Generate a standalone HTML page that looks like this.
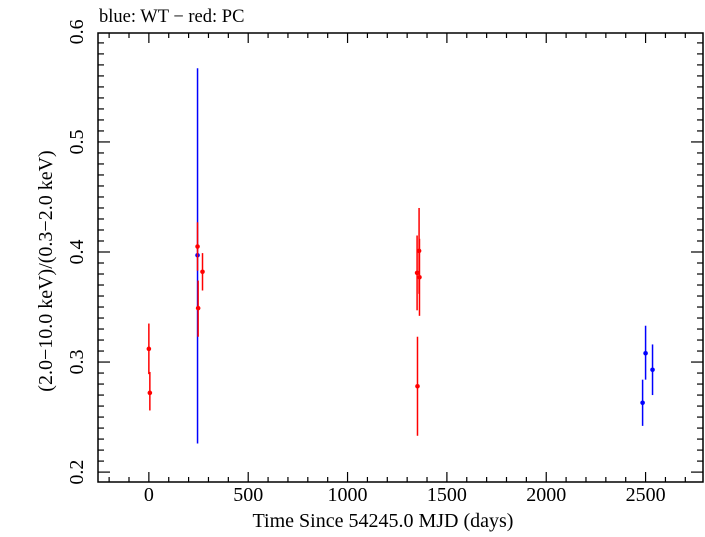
<!DOCTYPE html>
<html><head><meta charset="utf-8"><style>
body{margin:0;background:#fff}
svg text{font-family:"Liberation Serif",serif;fill:#000}
</style></head><body>
<svg id="chart" width="705" height="532" xmlns="http://www.w3.org/2000/svg">
<text x="99" y="22" font-size="18.5">blue: WT − red: PC</text>
<rect x="98" y="33" width="605" height="449" fill="none" stroke="#000" stroke-width="1.5"/>
<g id="axes"></g>
<g id="marks"></g>
<text x="383" y="527" font-size="20" text-anchor="middle">Time Since 54245.0 MJD (days)</text>
<text transform="translate(52,271) rotate(-90)" font-size="20" text-anchor="middle">(2.0−10.0 keV)/(0.3−2.0 keV)</text>
</svg>
<script>
const xTicks=[0,500,1000,1500,2000,2500];
const yTicks=[0.2,0.3,0.4,0.5,0.6];
const redX=[0,5,245,248,270,1350,1352,1360,1362];
const redY=[0.312,0.272,0.405,0.349,0.382,0.381,0.278,0.401,0.377];
const redLo=[0.289,0.256,0.383,0.323,0.365,0.347,0.233,0.362,0.342];
const redHi=[0.335,0.291,0.427,0.374,0.399,0.415,0.323,0.440,0.412];
const blueX=[245,2485,2500,2535];
const blueY=[0.397,0.263,0.308,0.293];
const blueLo=[0.226,0.242,0.284,0.270];
const blueHi=[0.567,0.284,0.333,0.316];
const X0=98,X1=703,Y0=482,Y1=33,XMIN=-256,XMAX=2789,YMIN=0.191,YMAX=0.599;
const sx=v=>X0+(v-XMIN)/(XMAX-XMIN)*(X1-X0);
const sy=v=>Y0-(v-YMIN)/(YMAX-YMIN)*(Y0-Y1);
const NS="http://www.w3.org/2000/svg";
const ax=document.getElementById('axes'),mk=document.getElementById('marks');
function mkEl(t,a,p){const e=document.createElementNS(NS,t);for(const k in a)e.setAttribute(k,a[k]);p.appendChild(e);return e;}
for(let v=-200;v<=2750;v+=100){const x=sx(v);const L=v%500===0?10:5;
 const t=mkEl('line',{x1:x,x2:x,y1:Y0,y2:Y0-L,stroke:'#000','stroke-width':1.2},ax);
 
 
 const t2=mkEl('line',{x1:x,x2:x,y1:Y1,y2:Y1+L,stroke:'#000','stroke-width':1.2},ax);
 
 }
xTicks.forEach(v=>{const t=mkEl('text',{x:sx(v),y:501,'font-size':20,'text-anchor':'middle'},ax);t.textContent=v;
 
 });
for(let i=0;i<=40;i++){const v=0.2+i*0.01;if(v>YMAX)break;const y=sy(v);const L=i%10===0?12:6;
 const t=mkEl('line',{x1:X0,x2:X0+L,y1:y,y2:y,stroke:'#000','stroke-width':1.2},ax);
 
 
 const t2=mkEl('line',{x1:X1,x2:X1-L,y1:y,y2:y,stroke:'#000','stroke-width':1.2},ax);
 
 }
yTicks.forEach(v=>{const y=sy(v);const t=mkEl('text',{transform:`translate(83,${y}) rotate(-90)`,'font-size':20,'text-anchor':'middle'},ax);t.textContent=v.toFixed(1);
 
 });
function series(xs,ys,lo,hi,col,name){xs.forEach((x,i)=>{
 const l=mkEl('line',{x1:sx(x),x2:sx(x),y1:sy(lo[i]),y2:sy(hi[i]),stroke:col,'stroke-width':1.5},mk);
 
 
 const c=mkEl('circle',{cx:sx(x),cy:sy(ys[i]),r:2.3,fill:col},mk);
 
 });}
series(blueX,blueY,blueLo,blueHi,'#0000ff','wt');
series(redX,redY,redLo,redHi,'#ff0000','pc');
</script>
</body></html>
